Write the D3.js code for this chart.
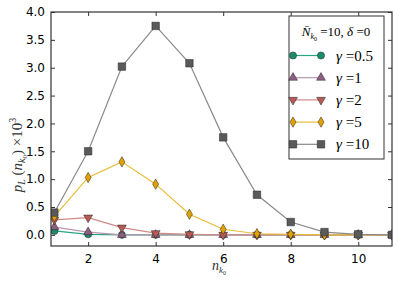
<!DOCTYPE html>
<html>
<head>
<meta charset="utf-8">
<script src="https://cdn.jsdelivr.net/npm/d3@7"></script>
<style>
  body { margin: 0; background: #fff; }
  svg { display: block; }
</style>
</head>
<body>
<svg width="399" height="284"></svg>
<script>
// x values (n_k0)
var nk = [1, 2, 3, 4, 5, 6, 7, 8, 9, 10, 11];

// p_L(n_k0) x 10^3 for each gamma
var gamma05 = [0.07, 0.01, 0.0, 0.0, 0.0, 0.0, 0.0, 0.0, 0.0, 0.0, 0.0];
var gamma1  = [0.14, 0.05, 0.0, 0.0, 0.0, 0.0, 0.0, 0.0, 0.0, 0.0, 0.0];
var gamma2  = [0.27, 0.31, 0.13, 0.03, 0.01, 0.0, 0.0, 0.0, 0.0, 0.0, 0.0];
var gamma5  = [0.33, 1.03, 1.31, 0.91, 0.37, 0.10, 0.02, 0.01, 0.0, 0.0, 0.0];
var gamma10 = [0.40, 1.50, 3.02, 3.75, 3.08, 1.75, 0.72, 0.23, 0.05, 0.01, 0.0];

var seriesNames = ["0.5", "1", "2", "5", "10"];
var xTicks = [2, 4, 6, 8, 10];
var yTicks = [0.0, 0.5, 1.0, 1.5, 2.0, 2.5, 3.0, 3.5, 4.0];

var series = [
    {name: seriesNames[0], values: gamma05, symbol: d3.symbolCircle, size: 40, rot: 0, fill: "#1a8c6b", line: "#2aa683"},
    {name: seriesNames[1], values: gamma1, symbol: d3.symbolTriangle, size: 34, rot: 0, fill: "#8e5f80", line: "#b896b0"},
    {name: seriesNames[2], values: gamma2, symbol: d3.symbolTriangle, size: 34, rot: 180, fill: "#b85a55", line: "#cf8a84"},
    {name: seriesNames[3], values: gamma5, symbol: "diamond", size: 0, rot: 0, fill: "#e0a200", line: "#e8bb3a"},
    {name: seriesNames[4], values: gamma10, symbol: d3.symbolSquare, size: 56, rot: 0, fill: "#5a5a5a", line: "#8a8a8a"}
];

var svg = d3.select("svg"),
    margin = {top: 12, right: 7, bottom: 38, left: 51},
    width = 399 - margin.left - margin.right,
    height = 284 - margin.top - margin.bottom;

var x = d3.scaleLinear().domain([0.9, 11]).range([0, width]);
var y = d3.scaleLinear().domain([-0.2, 4.0]).range([height, 0]);

var g = svg.append("g").attr("transform", "translate(" + margin.left + "," + margin.top + ")");

svg.append("defs").append("clipPath").attr("id", "plotclip")
    .append("rect").attr("width", width).attr("height", height);

function markerPath(s) {
    if (s.symbol === "diamond") return "M0,-5.2L3,0L0,5.2L-3,0Z";
    return d3.symbol().type(s.symbol).size(s.size)();
}

// axes, ticks inward on all sides
var tickFont = "DejaVu Sans, sans-serif";
var xAxis = d3.axisBottom(x).tickValues(xTicks).tickSize(-4).tickPadding(8).tickFormat(d3.format("d"));
var yAxis = d3.axisLeft(y).tickValues(yTicks).tickSize(-4).tickPadding(6).tickFormat(d3.format(".1f"));

var gx = g.append("g").attr("transform", "translate(0," + height + ")").call(xAxis);
var gy = g.append("g").call(yAxis);
g.append("g").call(d3.axisTop(x).tickValues(xTicks).tickSize(-4).tickFormat(""));
g.append("g").attr("transform", "translate(" + width + ",0)")
    .call(d3.axisRight(y).tickValues(yTicks).tickSize(-4).tickFormat(""));

g.selectAll(".domain").remove();
g.selectAll(".tick line").attr("stroke", "#333").attr("stroke-width", 1);
[gx, gy].forEach(function (a) {
    a.selectAll("text").style("font-family", tickFont).style("font-size", "12px").attr("fill", "#000");
});

// lines and markers
var line = d3.line().x(function (d, i) { return x(nk[i]); }).y(function (d) { return y(d); });
var plot = g.append("g").attr("clip-path", "url(#plotclip)");

series.forEach(function (s) {
    plot.append("path")
        .datum(s.values)
        .attr("d", line)
        .attr("fill", "none")
        .attr("stroke", s.line)
        .attr("stroke-width", 1.2);
    plot.selectAll(null)
        .data(s.values)
        .enter()
        .append("path")
        .attr("d", markerPath(s))
        .attr("transform", function (d, i) { return "translate(" + x(nk[i]) + "," + y(d) + ") rotate(" + s.rot + ")"; })
        .attr("fill", s.fill)
        .attr("stroke", "#222")
        .attr("stroke-width", 0.5);
});

// frame
g.append("rect").attr("width", width).attr("height", height)
    .attr("fill", "none").attr("stroke", "#333").attr("stroke-width", 1.2);

// axis labels
var mathFont = "Liberation Serif, serif";
var xl = svg.append("text")
    .attr("x", 219).attr("y", 270)
    .attr("text-anchor", "middle")
    .style("font-family", mathFont).style("font-size", "14px").style("font-style", "italic")
    .attr("fill", "#333");
xl.append("tspan").text("n");
xl.append("tspan").attr("dy", 3).style("font-size", "9px").text("k");
xl.append("tspan").attr("dy", 2).style("font-size", "6px").style("font-style", "normal").text("0");

var yl = svg.append("text")
    .attr("transform", "translate(22,155) rotate(-90)")
    .attr("text-anchor", "middle")
    .style("font-family", mathFont).style("font-size", "15px")
    .attr("fill", "#333");
yl.append("tspan").style("font-style", "italic").text("p");
yl.append("tspan").attr("dy", 3).style("font-size", "10px").style("font-style", "italic").text("L");
yl.append("tspan").attr("dy", -3).text(" (");
yl.append("tspan").style("font-style", "italic").text("n");
yl.append("tspan").attr("dy", 3).style("font-size", "10px").style("font-style", "italic").text("k");
yl.append("tspan").attr("dy", 2).style("font-size", "7px").text("0");
yl.append("tspan").attr("dy", -5).text(") ×10");
yl.append("tspan").attr("dy", -6).style("font-size", "10px").text("3");

// legend
var lg = svg.append("g").attr("transform", "translate(289,16)");
lg.append("rect").attr("width", 95).attr("height", 143)
    .attr("fill", "#fff").attr("stroke", "#333").attr("stroke-width", 1);

var title = lg.append("text").attr("x", 47).attr("y", 20).attr("text-anchor", "middle")
    .style("font-family", mathFont).style("font-size", "13px").attr("fill", "#000");
title.append("tspan").style("font-style", "italic").text("N\u0304");
title.append("tspan").attr("dy", 3).style("font-size", "8px").style("font-style", "italic").text("k");
title.append("tspan").attr("dy", 2).style("font-size", "6px").text("0");
title.append("tspan").attr("dy", -5).text(" =10, ");
title.append("tspan").style("font-style", "italic").text("δ");
title.append("tspan").text(" =0");

series.forEach(function (s, i) {
    var ly = 39.5 + i * 22.2;
    var row = lg.append("g").attr("transform", "translate(0," + ly + ")");
    row.append("line").attr("x1", 4).attr("x2", 32).attr("y1", 0).attr("y2", 0)
        .attr("stroke", s.line).attr("stroke-width", 1.2);
    [4, 32].forEach(function (px) {
        row.append("path").attr("d", markerPath(s))
            .attr("transform", "translate(" + px + ",0) rotate(" + s.rot + ")")
            .attr("fill", s.fill).attr("stroke", "#222").attr("stroke-width", 0.5);
    });
    var t = row.append("text").attr("x", 47).attr("y", 5)
        .style("font-family", mathFont).style("font-size", "15px").attr("fill", "#000");
    t.append("tspan").style("font-style", "italic").text("γ");
    t.append("tspan").text(" =" + s.name);
});
</script>
</body>
</html>
